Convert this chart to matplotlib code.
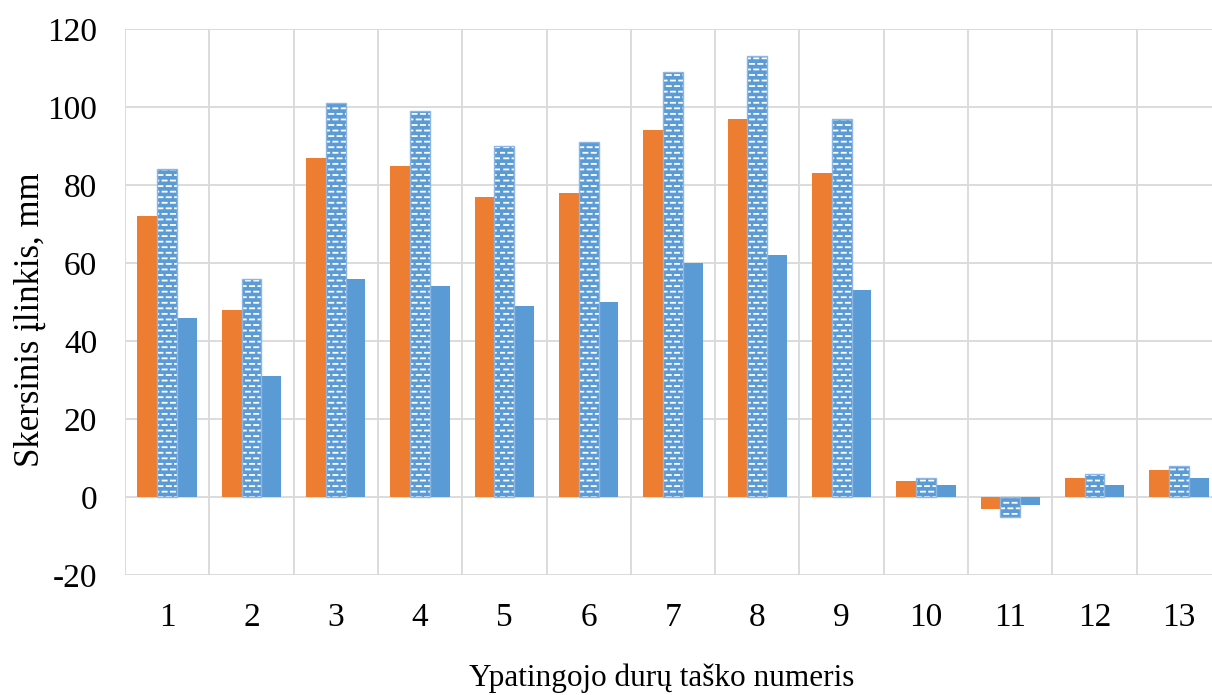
import numpy as np
import matplotlib
matplotlib.use("Agg")
import matplotlib.pyplot as plt
from matplotlib import hatch as mhatch

# Data
points = [str(i) for i in range(1, 14)]
series_a = [72, 48, 87, 85, 77, 78, 94, 97, 83, 4, -3, 5, 7]
series_b = [84, 56, 101, 99, 90, 91, 109, 113, 97, 5, -5, 6, 8]
series_c = [46, 31, 56, 54, 49, 50, 60, 62, 53, 3, -2, 3, 5]
y_ticks = [-20, 0, 20, 40, 60, 80, 100, 120]


class BrickDashHatch(mhatch.HatchPatternBase):
    """Short horizontal dashes in staggered rows (replaces the '-' hatch)."""

    def __init__(self, hatch, density):
        self.num_rows = (hatch.count('-') + hatch.count('+')) * density
        self.num_dash = 12
        self.num_vertices = self.num_rows * self.num_dash * 2

    def set_vertices_and_codes(self, vertices, codes):
        step = 1.0 / self.num_dash
        k = 0
        for i in range(self.num_rows):
            y = (i + 0.5) / self.num_rows
            shift = 0.5 * step * (i % 2)
            for j in range(self.num_dash):
                x0 = j * step + shift
                x1 = x0 + 0.5 * step
                vertices[k] = (x0, y)
                vertices[k + 1] = (x1, y)
                codes[k] = mhatch.Path.MOVETO
                codes[k + 1] = mhatch.Path.LINETO
                k += 2


mhatch._hatch_types = [BrickDashHatch if t is mhatch.HorizontalHatch else t
                       for t in mhatch._hatch_types]

plt.rcParams['font.family'] = ['Liberation Serif', 'DejaVu Serif']
plt.rcParams['hatch.color'] = 'white'
plt.rcParams['hatch.linewidth'] = 1.3

W, H = 1212, 695
fig = plt.figure(figsize=(W / 100, H / 100), dpi=100)
ax = fig.add_axes([125 / W, 1 - 575 / H, 1096 / W, 546 / H])

orange = '#ED7D31'
blue = '#5B9BD5'
x = np.arange(1, len(points) + 1)
bw = 0.235

ax.bar(x - bw, series_a, bw, color=orange, linewidth=0, zorder=3)
ax.bar(x, series_b, bw, color=blue, hatch='---', linewidth=0, zorder=3)
ax.bar(x, series_b, bw, fill=False, edgecolor='#8DB6E2', linewidth=1.0, zorder=4)
ax.bar(x + bw, series_c, bw, color=blue, linewidth=0, zorder=3)

ax.set_xlim(0.5, len(points) + 0.5)
ax.set_ylim(-20, 120)
ax.set_yticks(y_ticks)
ax.set_yticklabels([str(v) for v in y_ticks])
ax.set_xticks(x)
ax.set_xticklabels(points)
ax.set_xticks(np.arange(0.5, len(points) + 1, 1.0), minor=True)

ax.grid(True, axis='y', which='major', color='#D9D9D9', linewidth=1.3, zorder=0)
ax.grid(True, axis='x', which='minor', color='#D9D9D9', linewidth=1.3, zorder=0)
ax.grid(False, axis='x', which='major')
ax.set_axisbelow(True)

for s in ax.spines.values():
    s.set_visible(False)

ax.tick_params(axis='both', which='both', length=0, labelsize=24, colors='black')
ax.tick_params(axis='y', pad=20)
ax.tick_params(axis='x', pad=20)

fig.text(662 / W, 1 - 678 / H, 'Ypatingojo durų taško numeris', ha='center', va='center', fontsize=22.5)
fig.text(30 / W, 1 - 320 / H, 'Skersinis įlinkis, mm', ha='center', va='center', rotation=90, fontsize=25)

fig.savefig('out.png', dpi=100)
